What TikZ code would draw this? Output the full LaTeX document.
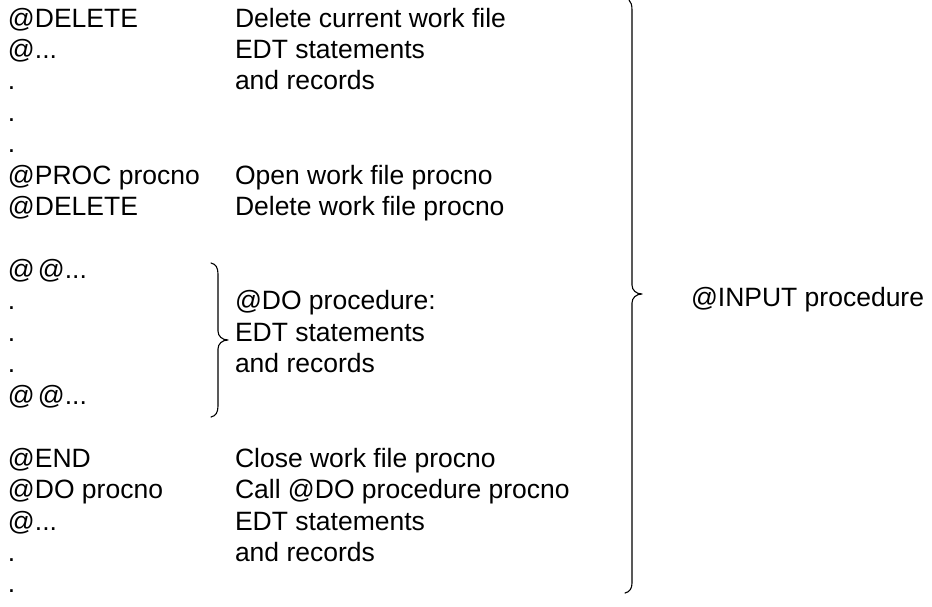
\documentclass[tikz,border=0pt]{standalone}
\usepackage{fontspec}
\setmainfont{Liberation Sans}
\begin{document}
\begin{tikzpicture}[x=1pt,y=-1pt,
  txt/.style={anchor=base west,inner sep=0pt,outer sep=0pt,font=\fontsize{26.5}{31.4}\selectfont},
  bracepath/.style={line width=1.1pt,line cap=round,line join=round}]
\useasboundingbox (0,0) rectangle (932,606);
% baseline of row r: 27 + r*31.44
\def\rowy#1{\fpeval{27+#1*31.44}}
% left column: statements
\node[txt] (l0)  at (8,{\rowy{0}})  {@DELETE};
\node[txt] (l1)  at (8,{\rowy{1}})  {@...};
\node[txt] (l2)  at (8,{\rowy{2}})  {.};
\node[txt] (l3)  at (8,{\rowy{3}})  {.};
\node[txt] (l4)  at (8,{\rowy{4}})  {.};
\node[txt] (l5)  at (8,{\rowy{5}})  {@PROC procno};
\node[txt] (l6)  at (8,{\rowy{6}})  {@DELETE};
\node[txt] (l8)  at (8,{\rowy{8}})  {@\kern3pt@...};
\node[txt] (l9)  at (8,{\rowy{9}})  {.};
\node[txt] (l10) at (8,{\rowy{10}}) {.};
\node[txt] (l11) at (8,{\rowy{11}}) {.};
\node[txt] (l12) at (8,{\rowy{12}}) {@\kern3pt@...};
\node[txt] (l14) at (8,{\rowy{14}}) {@END};
\node[txt] (l15) at (8,{\rowy{15}}) {@DO procno};
\node[txt] (l16) at (8,{\rowy{16}}) {@...};
\node[txt] (l17) at (8,{\rowy{17}}) {.};
\node[txt] (l18) at (8,{\rowy{18}}) {.};
% right column: comments
\node[txt] (r0)  at (235,{\rowy{0}})  {Delete current work file};
\node[txt] (r1)  at (235,{\rowy{1}})  {EDT statements};
\node[txt] (r2)  at (235,{\rowy{2}})  {and records};
\node[txt] (r5)  at (235,{\rowy{5}})  {Open work file procno};
\node[txt] (r6)  at (235,{\rowy{6}})  {Delete work file procno};
\node[txt] (r9)  at (235,{\rowy{9}})  {@DO procedure:};
\node[txt] (r10) at (235,{\rowy{10}}) {EDT statements};
\node[txt] (r11) at (235,{\rowy{11}}) {and records};
\node[txt] (r14) at (235,{\rowy{14}}) {Close work file procno};
\node[txt] (r15) at (235,{\rowy{15}}) {Call @DO procedure procno};
\node[txt] (r16) at (235,{\rowy{16}}) {EDT statements};
\node[txt] (r17) at (235,{\rowy{17}}) {and records};
\node[txt] (inp) at (691,306) {@INPUT procedure};
% small brace around the @DO procedure
\draw[bracepath] (211,263) .. controls (216,264) and (218,268) .. (218,274)
  -- (218,331) .. controls (218,336) and (222,340) .. (228,340)
  .. controls (222,340) and (218,344) .. (218,349)
  -- (218,406) .. controls (218,412) and (216,416) .. (211,417);
% large brace around the whole @INPUT procedure
\draw[bracepath] (629,0) .. controls (631,2) and (632,5) .. (632,10)
  -- (632,285) .. controls (632,290) and (636,294) .. (642,294)
  .. controls (636,294) and (632,298) .. (632,303)
  -- (632,583) .. controls (632,588) and (630,592) .. (625,593);
\end{tikzpicture}
\end{document}
